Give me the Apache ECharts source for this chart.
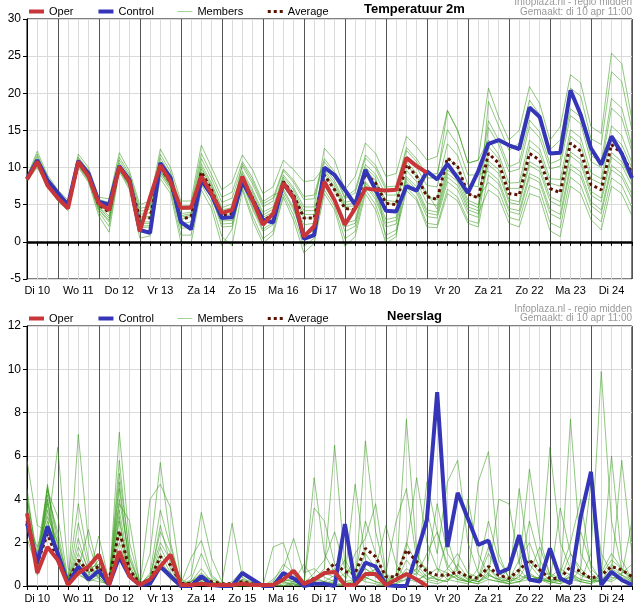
<!DOCTYPE html>
<html>
<head>
<meta charset="utf-8">
<script src="https://cdn.jsdelivr.net/npm/echarts@6/dist/echarts.min.js"></script>
<style>
  html, body { margin: 0; padding: 0; background: #fff; }
  #chart { width: 634px; height: 606px; }
</style>
</head>
<body>
<div id="chart"></div>
<script>
// time steps in hours after Di 10 00:00 (6-hourly)
const hours = [
  6, 12, 18, 24, 30, 36, 42, 48, 54, 60,
  66, 72, 78, 84, 90, 96, 102, 108, 114, 120,
  126, 132, 138, 144, 150, 156, 162, 168, 174, 180,
  186, 192, 198, 204, 210, 216, 222, 228, 234, 240,
  246, 252, 258, 264, 270, 276, 282, 288, 294, 300,
  306, 312, 318, 324, 330, 336, 342, 348, 354, 360
];
// labels sit at noon of each day
const dayLabels = ['Di 10', 'Wo 11', 'Do 12', 'Vr 13', 'Za 14', 'Zo 15', 'Ma 16', 'Di 17',
                   'Wo 18', 'Do 19', 'Vr 20', 'Za 21', 'Zo 22', 'Ma 23', 'Di 24'];

// ---- Temperatuur 2m ----
const tempOper = [
  8.4, 10.8, 7.6, 5.9, 4.5, 10.8, 8.8, 5.2, 4.3, 10.1,
  8.1, 1.4, 6.0, 10.3, 8.1, 4.6, 4.6, 8.8, 6.5, 3.9,
  4.3, 8.8, 5.6, 2.3, 3.8, 7.9, 5.9, 0.7, 2.1, 8.1,
  5.6, 2.3, 4.5, 7.2, 7.0, 6.9, 7.0, 11.3, 10.2, 9.3
];
const tempControl = [
  8.5, 11.0, 8.3, 6.6, 5.0, 10.9, 9.2, 5.4, 5.0, 10.2,
  8.3, 1.6, 1.2, 10.6, 8.6, 2.7, 1.7, 8.3, 6.3, 3.2,
  3.3, 8.1, 5.6, 3.0, 2.6, 7.9, 5.9, 0.4, 0.9, 10.0,
  9.0, 7.0, 5.0, 9.7, 7.0, 4.2, 4.1, 7.5, 6.9, 9.5,
  8.4, 10.5, 8.6, 6.6, 9.5, 13.2, 13.7, 13.0, 12.5, 18.1,
  16.8, 11.9, 12.0, 20.4, 17.1, 12.6, 10.4, 14.2, 11.9, 8.6
];
const tempAverage = [
  8.5, 10.7, 8.0, 6.0, 4.7, 10.6, 8.8, 5.0, 4.0, 10.0,
  8.0, 3.2, 3.2, 10.0, 8.0, 3.0, 3.4, 9.4, 7.0, 3.6,
  3.8, 8.6, 5.9, 2.9, 3.6, 8.1, 6.3, 3.2, 3.2, 9.0,
  7.0, 4.5, 4.3, 9.2, 7.9, 5.2, 5.0, 10.4, 8.8, 6.1,
  5.7, 11.3, 10.1, 6.5, 5.9, 11.9, 10.6, 6.5, 6.3, 11.9,
  11.0, 7.2, 6.6, 13.3, 12.2, 7.7, 7.0, 13.1, 11.9, 9.2
];
const tempMembers = [
  [8.8, 12.2, 9.0, 7.0, 5.6, 11.8, 10.0, 6.0, 5.8, 12.0,
   9.5, 5.0, 5.5, 12.5, 10.0, 5.5, 5.5, 13.0, 10.0, 7.0,
   8.0, 11.7, 9.7, 6.5, 7.4, 11.0, 9.7, 8.1, 8.3, 10.1,
   8.2, 5.3, 5.7, 10.4, 9.1, 6.3, 6.3, 11.5, 10.0, 7.6,
   7.4, 13.2, 11.6, 7.7, 7.4, 16.3, 13.7, 10.1, 10.7, 16.4,
   14.8, 10.5, 11.1, 17.9, 16.8, 11.6, 10.8, 19.3, 18.0, 12.8],
  [8.6, 11.2, 8.3, 6.3, 5.0, 11.0, 9.2, 5.3, 4.5, 10.6,
   8.5, 3.7, 3.9, 10.8, 8.6, 3.8, 4.0, 10.5, 7.9, 4.6,
   5.1, 9.5, 7.0, 4.0, 4.7, 9.0, 7.3, 4.7, 4.7, 12.6,
   11.0, 7.0, 8.8, 13.3, 11.9, 8.8, 9.2, 14.2, 12.8, 11.0,
   11.5, 17.7, 15.0, 10.6, 11.0, 13.7, 11.8, 7.9, 8.0, 13.7,
   12.5, 8.5, 8.4, 15.1, 14.0, 9.3, 8.5, 15.6, 14.3, 10.6],
  [8.7, 11.5, 8.5, 6.5, 5.2, 11.2, 9.4, 5.5, 4.9, 11.0,
   8.8, 4.1, 4.4, 11.3, 9.0, 4.3, 4.5, 11.2, 8.5, 5.3,
   5.9, 10.2, 7.8, 4.7, 5.5, 9.6, 8.0, 5.7, 5.8, 10.8,
   9.0, 5.8, 6.6, 11.3, 9.9, 7.0, 7.1, 12.3, 10.8, 8.6,
   8.6, 17.7, 15.0, 10.6, 11.0, 20.7, 16.8, 13.7, 15.0, 20.9,
   18.6, 13.7, 15.5, 22.5, 21.4, 15.5, 14.6, 25.4, 24.0, 16.4],
  [8.5, 10.9, 8.1, 6.1, 4.8, 10.7, 8.9, 5.1, 4.2, 10.2,
   8.2, 3.4, 3.4, 10.3, 8.2, 3.3, 3.6, 9.8, 7.3, 3.9,
   4.2, 8.9, 6.3, 3.3, 4.0, 8.4, 6.6, 3.7, 3.7, 9.4,
   7.4, 4.8, 4.8, 9.6, 8.3, 5.6, 5.4, 10.8, 9.2, 6.6,
   4.4, 9.7, 8.6, 5.2, 4.6, 10.4, 9.2, 5.3, 5.0, 10.3,
   9.5, 5.5, 4.8, 11.6, 10.5, 6.3, 5.4, 11.4, 10.3, 7.5],
  [8.5, 10.7, 8.0, 6.0, 4.7, 10.6, 8.8, 5.0, 4.0, 10.0,
   8.0, 3.2, 3.2, 10.0, 8.0, 3.0, 3.4, 9.4, 7.0, 3.6,
   3.8, 10.5, 8.2, 5.1, 5.9, 9.8, 8.3, 6.1, 6.3, 11.2,
   9.4, 6.0, 7.0, 11.7, 10.3, 7.4, 7.5, 12.7, 11.2, 9.0,
   9.2, 15.1, 13.0, 9.0, 9.0, 9.5, 8.3, 4.5, 4.2, 9.2,
   8.5, 4.4, 3.7, 10.4, 9.4, 5.4, 4.3, 10.3, 9.2, 6.4],
  [8.4, 10.6, 7.9, 5.9, 4.6, 10.5, 8.6, 4.7, 3.5, 9.9,
   7.8, 2.7, 2.7, 9.7, 7.7, 2.4, 2.7, 8.9, 6.5, 2.8,
   2.9, 8.3, 5.3, 2.3, 3.1, 7.7, 5.6, 2.3, 2.5, 8.5,
   5.9, 2.5, 2.9, 8.1, 6.5, 3.0, 3.3, 8.8, 7.4, 4.3,
   4.0, 9.2, 8.1, 4.7, 4.2, 15.4, 13.1, 9.4, 9.8, 15.5,
   14.0, 9.8, 10.2, 17.0, 15.9, 10.8, 10.0, 18.0, 16.7, 12.1],
  [8.4, 10.4, 7.8, 5.8, 4.5, 10.4, 8.5, 4.4, 2.9, 9.8,
   7.6, 2.1, 2.2, 9.4, 7.4, 1.8, 2.0, 8.4, 6.0, 2.0,
   2.1, 8.0, 4.7, 1.7, 2.6, 8.1, 6.3, 3.2, 3.2, 9.0,
   7.0, 4.5, 4.3, 9.2, 7.9, 5.2, 5.0, 10.4, 8.8, 6.1,
   5.7, 11.3, 10.1, 6.5, 5.9, 8.0, 6.9, 3.3, 2.9, 7.6,
   7.0, 2.6, 1.9, 8.7, 7.6, 3.9, 2.7, 8.6, 7.6, 4.6],
  [8.3, 10.2, 7.7, 5.7, 4.4, 10.2, 8.2, 4.0, 2.1, 9.7,
   7.3, 1.3, 1.5, 9.0, 7.0, 0.9, 0.9, 7.7, 5.3, 0.7,
   -0.5, 7.0, 2.9, -0.2, 1.0, 6.0, 2.9, -1.5, -0.2, 6.5,
   4.3, -0.6, 0.7, 6.5, 4.3, -0.2, 0.7, 9.6, 8.1, 5.2,
   4.9, 10.2, 9.1, 5.6, 5.0, 10.9, 9.7, 5.7, 5.4, 10.8,
   10.0, 6.1, 5.4, 12.1, 11.1, 6.8, 5.9, 12.0, 10.8, 8.1],
  [8.2, 10.0, 7.5, 5.5, 4.2, 10.0, 8.0, 3.5, 1.3, 9.5,
   7.0, 0.5, 0.8, 8.5, 6.5, 0.0, -0.2, 7.0, 4.5, -0.5,
   1.7, 7.8, 4.4, 1.4, 2.3, 7.1, 4.6, 0.9, 1.5, 7.8,
   5.7, 2.0, 2.5, 7.9, 6.1, 2.5, 2.9, 8.5, 7.0, 3.9,
   3.6, 8.7, 7.6, 4.3, 3.8, 7.0, 6.0, 2.5, 2.0, 6.5,
   6.0, 1.5, 0.7, 7.5, 6.5, 3.0, 1.6, 7.5, 6.5, 3.5],
  [8.4, 10.5, 7.9, 5.9, 4.6, 10.4, 8.6, 4.6, 3.2, 9.9,
   7.7, 2.4, 2.5, 9.6, 7.6, 2.1, 2.3, 8.7, 6.3, 2.4,
   2.5, 7.3, 3.5, 0.4, 1.5, 6.4, 3.6, -0.6, 0.5, 7.0,
   4.8, 0.4, 1.4, 7.0, 5.0, 0.9, 1.6, 7.3, 5.9, 2.5,
   2.3, 7.1, 6.0, 2.9, 2.5, 12.8, 11.2, 7.2, 7.2, 12.8,
   11.8, 7.9, 7.5, 14.2, 13.1, 8.5, 7.8, 14.3, 13.1, 9.9],
  [8.7, 11.8, 8.7, 6.7, 5.3, 11.4, 9.6, 5.7, 5.3, 11.4,
   9.1, 4.5, 4.8, 11.8, 9.4, 4.8, 4.9, 11.9, 9.1, 6.0,
   6.7, 10.8, 8.6, 5.4, 6.3, 6.8, 4.3, 0.4, 1.2, 7.5,
   5.4, 1.4, 2.1, 7.6, 5.7, 2.0, 2.4, 8.1, 6.6, 3.4,
   3.2, 8.1, 7.0, 3.8, 3.3, 18.9, 15.6, 12.3, 13.3, 19.1,
   17.1, 12.4, 13.7, 20.7, 19.6, 13.9, 13.1, 22.9, 21.6, 15.0],
  [8.4, 10.4, 7.8, 5.8, 4.5, 10.3, 8.4, 4.3, 2.7, 9.8,
   7.5, 1.9, 2.0, 9.3, 7.3, 3.5, 3.8, 10.1, 7.6, 4.3,
   4.6, 9.2, 6.7, 3.6, 4.4, 8.7, 7.0, 4.2, 4.2, 9.7,
   7.8, 5.0, 5.2, 10.0, 8.7, 0.3, 1.1, 6.9, 5.6, 2.0,
   1.9, 6.5, 5.5, 2.5, 2.0, 9.0, 7.8, 4.1, 3.7, 8.7,
   8.0, 3.8, 3.1, 9.8, 8.8, 4.9, 3.8, 9.7, 8.7, 5.8]
];

// ---- Neerslag ----
const rainOper = [
  3.35, 0.6, 1.8, 1.2, 0.05, 0.6, 0.9, 1.45, 0.05, 1.6,
  0.45, 0.05, 0.3, 0.9, 1.45, 0.05, 0.05, 0.1, 0.05, 0.05,
  0.05, 0.1, 0.05, 0.05, 0.05, 0.3, 0.7, 0.1, 0.3, 0.6,
  0.65, 0.05, 0.05, 0.55, 0.55, 0.05, 0.3, 0.55, 0.3, 0.0
];
const rainControl = [
  2.9, 1.1, 2.75, 1.5, 0.1, 0.9, 0.3, 0.7, 0.05, 1.35,
  0.45, 0.05, 0.1, 0.9, 0.45, 0.0, 0.0, 0.45, 0.05, 0.0,
  0.0, 0.6, 0.3, 0.0, 0.0, 0.6, 0.35, 0.0, 0.1, 0.1,
  0.0, 2.86, 0.12, 1.08, 0.9, 0.05, 0.0, 0.0, 1.5, 3.05,
  8.95, 1.8, 4.3, 3.1, 1.9, 2.1, 0.6, 0.8, 2.35, 0.3,
  0.2, 1.74, 0.35, 0.12, 3.2, 5.27, 0.05, 0.66, 0.28, 0.05
];
const rainAverage = [
  3.0, 1.05, 2.4, 1.2, 0.2, 1.2, 0.66, 0.9, 0.3, 2.55,
  0.75, 0.12, 0.3, 1.35, 0.97, 0.12, 0.12, 0.35, 0.2, 0.1,
  0.1, 0.2, 0.1, 0.05, 0.05, 0.45, 0.35, 0.12, 0.35, 0.58,
  1.05, 0.66, 0.58, 1.74, 1.35, 0.43, 0.43, 1.66, 1.12, 0.66,
  0.5, 0.5, 0.66, 0.43, 0.35, 0.9, 0.5, 0.35, 0.74, 1.2,
  0.74, 0.35, 0.35, 0.9, 0.66, 0.35, 0.5, 0.9, 0.74, 0.43
];
const rainMembers = [
  [4.0, 1.5, 4.6, 1.8, 0.2, 1.0, 0.5, 0.8, 0.1, 3.5,
   0.8, 0.1, 0.5, 2.0, 1.2, 0.1, 0.2, 0.5, 0.2, 0.0,
   0.1, 0.2, 0.1, 0.0, 0.0, 0.5, 0.4, 0.1, 0.6, 1.2,
   2.5, 0.8, 0.5, 3.0, 1.5, 0.2, 0.3, 2.0, 1.0, 0.4,
   0.3, 0.8, 1.5, 0.6, 0.4, 1.8, 0.6, 0.3, 1.2, 2.0,
   0.8, 0.2, 0.3, 1.5, 0.8, 0.3, 0.5, 1.2, 0.8, 0.4],
  [3.2, 0.8, 3.8, 1.2, 0.1, 2.9, 0.9, 0.4, 0.0, 4.5,
   1.0, 0.0, 0.2, 1.5, 0.6, 0.0, 0.1, 0.2, 0.1, 0.0,
   0.0, 0.1, 0.0, 0.0, 0.2, 1.0, 0.6, 0.0, 0.2, 0.5,
   0.8, 0.2, 1.5, 2.2, 3.8, 0.6, 0.2, 0.8, 0.5, 1.5,
   2.5, 1.0, 0.4, 0.2, 0.8, 3.0, 1.2, 0.4, 0.3, 0.6,
   1.8, 0.5, 0.2, 0.4, 2.5, 1.0, 0.2, 0.3, 0.6, 1.0],
  [5.8, 2.8, 2.5, 6.4, 0.8, 0.5, 0.3, 0.2, 0.1, 2.5,
   0.4, 0.0, 0.0, 0.8, 0.4, 0.0, 0.0, 0.1, 0.0, 0.0,
   0.2, 0.7, 0.3, 0.0, 0.0, 0.2, 0.1, 0.0, 5.0, 1.5,
   0.6, 0.2, 0.1, 0.5, 0.8, 2.8, 1.0, 0.3, 0.2, 0.6,
   0.3, 0.2, 0.8, 4.0, 1.5, 0.5, 0.3, 0.2, 0.6, 3.0,
   1.2, 0.4, 0.8, 0.5, 0.2, 0.1, 0.6, 1.5, 0.8, 0.2],
  [3.5, 1.0, 4.2, 2.5, 0.2, 1.5, 0.6, 1.2, 0.2, 5.2,
   1.5, 0.1, 0.3, 2.8, 1.0, 0.0, 0.3, 1.5, 0.4, 0.1,
   0.0, 0.0, 0.0, 0.0, 0.0, 0.3, 0.2, 0.0, 0.4, 0.2,
   0.1, 0.0, 0.3, 1.5, 0.8, 0.2, 0.5, 7.7, 1.5, 0.6,
   0.3, 0.2, 1.0, 0.4, 0.2, 0.5, 0.3, 0.8, 2.0, 0.5,
   0.3, 0.2, 0.1, 0.5, 0.3, 0.2, 0.2, 1.0, 0.5, 0.2],
  [2.8, 1.2, 4.0, 1.5, 0.0, 7.0, 2.0, 0.5, 0.1, 3.0,
   0.5, 0.0, 0.6, 3.5, 1.8, 0.2, 0.0, 0.3, 0.0, 0.0,
   0.0, 0.3, 0.2, 0.1, 0.0, 0.0, 0.2, 0.0, 0.3, 0.8,
   6.5, 1.0, 0.3, 0.8, 0.5, 0.2, 0.1, 0.5, 0.8, 0.3,
   0.2, 0.6, 0.3, 0.2, 0.1, 0.8, 0.4, 0.2, 0.4, 1.2,
   0.6, 6.4, 2.0, 0.8, 0.5, 0.3, 0.2, 0.4, 0.3, 0.1],
  [3.8, 0.6, 4.7, 1.0, 0.1, 0.8, 2.6, 0.6, 0.0, 7.1,
   2.0, 0.2, 0.1, 1.2, 0.5, 0.0, 0.2, 0.8, 0.2, 0.0,
   0.0, 0.1, 0.0, 0.0, 0.1, 0.2, 0.4, 0.2, 0.2, 0.1,
   0.3, 0.1, 0.0, 6.7, 2.5, 0.5, 0.2, 1.2, 0.6, 0.3,
   0.5, 2.2, 0.6, 0.3, 0.2, 0.6, 0.2, 0.1, 0.5, 0.3,
   0.4, 0.3, 0.2, 7.7, 1.5, 0.6, 0.2, 0.5, 0.4, 0.2],
  [3.0, 1.8, 3.2, 2.0, 0.4, 1.2, 0.4, 2.3, 0.2, 3.8,
   3.0, 0.1, 1.5, 5.7, 2.0, 0.1, 0.5, 3.4, 1.3, 0.2,
   0.0, 0.2, 0.1, 0.0, 0.3, 0.8, 2.2, 0.6, 0.8, 0.4,
   0.2, 0.0, 0.1, 0.4, 0.2, 0.0, 0.3, 1.8, 5.0, 2.0,
   0.8, 0.3, 0.2, 0.1, 0.5, 0.8, 0.3, 0.1, 0.2, 0.6,
   0.3, 0.2, 0.1, 0.3, 0.2, 1.5, 9.9, 3.0, 0.8, 0.3],
  [4.5, 1.0, 4.4, 3.2, 0.3, 3.8, 1.2, 0.3, 0.0, 4.8,
   0.8, 0.0, 4.0, 4.7, 3.6, 0.3, 0.1, 0.5, 0.3, 0.1,
   2.9, 0.4, 0.1, 0.0, 0.0, 0.2, 0.0, 0.0, 0.1, 0.0,
   0.2, 0.6, 0.2, 0.3, 0.8, 0.4, 0.2, 0.3, 0.8, 3.5,
   1.5, 4.8, 5.8, 2.0, 0.6, 0.3, 0.2, 0.3, 0.8, 0.2,
   0.4, 0.6, 0.3, 0.2, 0.8, 4.8, 1.5, 0.6, 5.8, 1.5],
  [2.2, 0.8, 3.5, 1.5, 0.2, 0.9, 0.3, 0.5, 0.1, 2.0,
   0.6, 0.0, 0.1, 0.9, 0.3, 0.0, 0.0, 0.2, 0.0, 0.0,
   0.0, 0.0, 0.0, 0.0, 1.8, 2.0, 0.5, 0.1, 3.6, 3.0,
   1.0, 0.4, 4.7, 1.2, 0.5, 0.3, 0.2, 0.6, 0.3, 0.2,
   0.1, 0.3, 0.5, 0.2, 4.8, 6.2, 1.5, 0.3, 0.2, 0.5,
   0.3, 0.1, 0.3, 0.4, 0.2, 0.1, 0.3, 0.6, 0.2, 0.1],
  [3.4, 1.3, 4.5, 2.2, 0.1, 1.8, 0.8, 1.0, 0.1, 4.0,
   1.2, 0.1, 0.4, 2.5, 1.5, 0.1, 0.2, 0.6, 0.2, 0.0,
   0.1, 0.3, 0.0, 0.0, 0.0, 0.1, 0.1, 0.0, 0.2, 0.6,
   0.4, 0.2, 0.3, 0.8, 0.4, 0.6, 3.0, 4.5, 1.2, 0.8,
   3.8, 1.5, 0.8, 0.3, 0.2, 0.4, 4.0, 3.8, 1.0, 5.4,
   2.2, 0.5, 0.2, 0.6, 0.3, 0.2, 0.4, 6.0, 1.2, 0.3],
  [3.6, 0.5, 4.0, 1.2, 0.2, 0.6, 0.2, 0.4, 0.0, 3.2,
   0.4, 0.0, 0.2, 1.8, 0.8, 0.0, 0.0, 0.1, 0.0, 0.0,
   0.0, 0.0, 0.0, 0.0, 0.1, 0.3, 0.2, 1.0, 0.3, 0.2,
   0.1, 0.0, 0.2, 0.4, 0.2, 0.1, 0.3, 0.6, 0.3, 0.5,
   0.8, 0.6, 0.3, 0.2, 0.3, 1.5, 0.6, 0.2, 4.5, 1.0,
   0.4, 0.2, 3.6, 1.5, 0.6, 0.3, 0.2, 0.8, 0.5, 0.3],
  [4.2, 1.1, 3.0, 1.6, 0.1, 2.2, 0.6, 0.9, 0.0, 5.8,
   1.3, 0.1, 0.2, 1.0, 0.6, 0.1, 1.3, 2.1, 0.5, 0.1,
   0.0, 0.1, 0.0, 0.0, 0.0, 0.0, 0.1, 0.0, 0.1, 0.2,
   0.5, 1.2, 0.4, 0.2, 0.1, 0.0, 0.1, 0.3, 0.6, 4.8,
   2.5, 0.8, 0.4, 0.2, 0.1, 0.3, 0.2, 0.1, 0.2, 0.3,
   0.4, 0.2, 0.6, 2.0, 4.0, 0.8, 0.3, 0.2, 0.5, 3.0]
];

const FONT = '"Liberation Sans", Arial, sans-serif';
const RED = '#c8363a';
const BLUE = '#3535b8';
const BROWN = '#5c1200';
const MEMBER = 'rgba(55,155,25,0.55)';

function toPoints(vals) {
  return vals.map((v, i) => [hours[i], v]);
}

function line(name, vals, idx, style, z) {
  return {
    name: name,
    type: 'line',
    xAxisIndex: idx,
    yAxisIndex: idx,
    data: toPoints(vals),
    symbol: 'none',
    silent: true,
    z: z,
    lineStyle: style,
    emphasis: { disabled: true }
  };
}

function panelSeries(idx, members, avg, control, oper) {
  const list = members.map(m => line('Members', m, idx, { color: MEMBER, width: 1 }, 2));
  list.push(line('Average', avg, idx, { color: BROWN, width: 3, type: [3, 3] }, 3));
  list.push(line('Control', control, idx, { color: BLUE, width: 4 }, 4));
  list.push(line('Oper', oper, idx, { color: RED, width: 4 }, 5));
  return list;
}

function xAxisFor(idx, margin) {
  return {
    type: 'value', gridIndex: idx, min: 6, max: 360, interval: 6,
    axisLine: { show: true, lineStyle: { color: '#000', width: 1 } },
    axisTick: { show: true, length: 4, lineStyle: { color: '#000' } },
    axisLabel: {
      margin: margin, color: '#000', fontSize: 11, fontFamily: FONT,
      formatter: function (v) {
        const k = (v - 12) / 24;
        return Number.isInteger(k) && dayLabels[k] ? dayLabels[k] : '';
      }
    },
    // 6-hour lines light grey, midnight lines dark
    splitLine: { show: true, lineStyle: { color: ['#dadada', '#dadada', '#dadada', '#555555'], width: 1 } }
  };
}

function yAxisFor(idx, min, max, step) {
  return {
    type: 'value', gridIndex: idx, min: min, max: max, interval: step,
    axisLine: { show: true, lineStyle: { color: '#000', width: 1 } },
    axisTick: { show: true, length: 4, lineStyle: { color: '#000' } },
    axisLabel: { margin: 6, color: '#000', fontSize: 12, fontFamily: FONT },
    splitLine: { show: true, lineStyle: { color: '#dadada', width: 1 } }
  };
}

function legendAt(top) {
  return {
    top: top, left: 27, itemWidth: 15, itemHeight: 10, itemGap: 23, padding: 0,
    selectedMode: false,
    data: ['Oper', 'Control', { name: 'Members', lineStyle: { color: '#a3d395', width: 1 } }, 'Average'],
    itemStyle: { opacity: 0 },
    lineStyle: { width: 'inherit' },
    textStyle: { color: '#000', fontSize: 11, fontFamily: FONT }
  };
}

const topSeries = panelSeries(0, tempMembers, tempAverage, tempControl, tempOper);
// zero line of the temperature panel
topSeries.push({
  name: 'zero', type: 'line', xAxisIndex: 0, yAxisIndex: 0, data: [], z: 3, silent: true,
  markLine: {
    silent: true, symbol: ['none', 'none'], label: { show: false }, animation: false,
    lineStyle: { color: '#000', width: 2.5, type: 'solid' },
    data: [{ yAxis: 0 }]
  }
});
const bottomSeries = panelSeries(1, rainMembers, rainAverage, rainControl, rainOper);

const chart = echarts.init(document.getElementById('chart'), null, { renderer: 'canvas' });
chart.setOption({
  animation: false,
  backgroundColor: '#fff',
  textStyle: { fontFamily: FONT },
  title: [
    { text: 'Temperatuur 2m', left: 364, top: 3, padding: 0,
      textStyle: { fontSize: 13, fontWeight: 'bold', color: '#000', fontFamily: FONT } },
    { text: 'Neerslag', left: 387, top: 310, padding: 0,
      textStyle: { fontSize: 13, fontWeight: 'bold', color: '#000', fontFamily: FONT } }
  ],
  legend: [legendAt(6), legendAt(313)],
  graphic: [
    { type: 'text', right: 2, top: -3, style: { text: 'Infoplaza.nl - regio midden', fill: '#9a9a9a', font: '10px ' + FONT } },
    { type: 'text', right: 2, top: 7, style: { text: 'Gemaakt: di 10 apr 11:00', fill: '#9a9a9a', font: '10px ' + FONT } },
    { type: 'text', right: 2, top: 304, style: { text: 'Infoplaza.nl - regio midden', fill: '#9a9a9a', font: '10px ' + FONT } },
    { type: 'text', right: 2, top: 313, style: { text: 'Gemaakt: di 10 apr 11:00', fill: '#9a9a9a', font: '10px ' + FONT } }
  ],
  grid: [
    { left: 27, top: 19, width: 605, height: 260, show: true, borderColor: '#000', borderWidth: 1,
      backgroundColor: 'transparent', containLabel: false, outerBoundsMode: 'none' },
    { left: 27, top: 326, width: 605, height: 260, show: true, borderColor: '#000', borderWidth: 1,
      backgroundColor: 'transparent', containLabel: false, outerBoundsMode: 'none' }
  ],
  xAxis: [xAxisFor(0, 6), xAxisFor(1, 7)],
  yAxis: [yAxisFor(0, -5, 30, 5), yAxisFor(1, 0, 12, 2)],
  series: topSeries.concat(bottomSeries)
});
</script>
</body>
</html>
